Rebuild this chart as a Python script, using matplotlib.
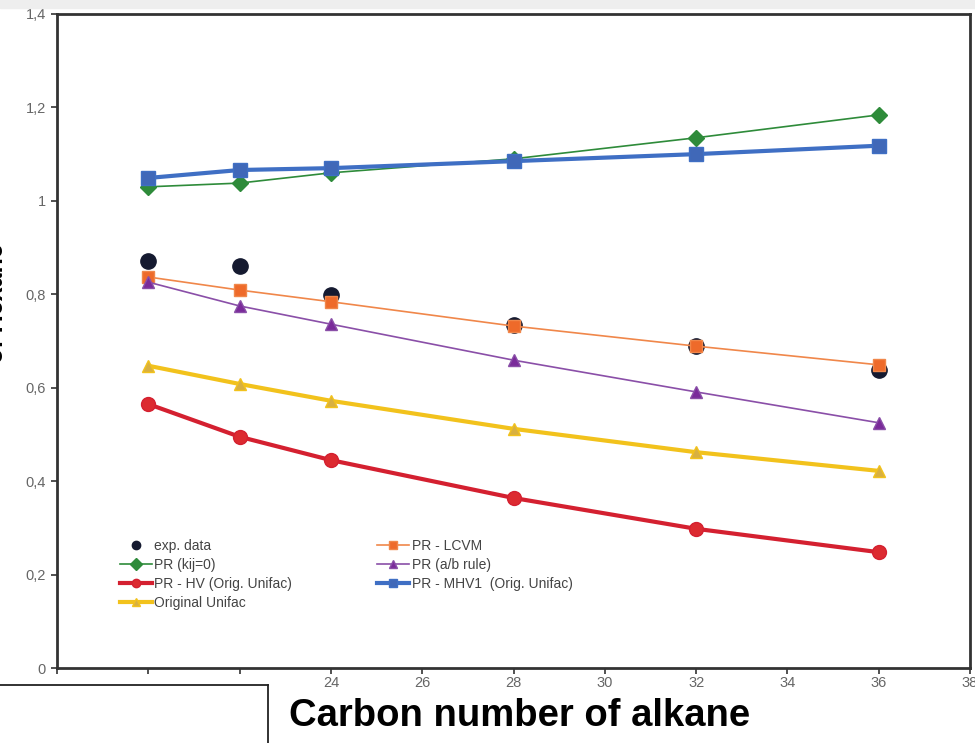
import matplotlib.pyplot as plt
from matplotlib.lines import Line2D
from matplotlib.patches import Rectangle
from matplotlib.ticker import FuncFormatter

carbon = [20, 22, 24, 28, 32, 36]

exp_data = [0.871, 0.861, 0.799, 0.734, 0.689, 0.638]
pr_kij0 = [1.030, 1.038, 1.060, 1.090, 1.135, 1.184]
pr_hv = [0.565, 0.495, 0.445, 0.364, 0.298, 0.248]
orig_unifac = [0.647, 0.608, 0.572, 0.512, 0.462, 0.422]
pr_lcvm = [0.837, 0.809, 0.784, 0.732, 0.689, 0.649]
pr_ab = [0.826, 0.775, 0.736, 0.659, 0.591, 0.525]
pr_mhv1 = [1.049, 1.066, 1.070, 1.085, 1.100, 1.118]

x_ticks = [18, 20, 22, 24, 26, 28, 30, 32, 34, 36, 38]
x_labeled = [24, 26, 28, 30, 32, 34, 36, 38]
y_ticks = [0, 0.2, 0.4, 0.6, 0.8, 1.0, 1.2, 1.4]

plt.rcParams['font.family'] = ['Liberation Sans', 'DejaVu Sans']

fig = plt.figure(figsize=(9.75, 7.43), dpi=100)
ax = fig.add_axes([0.0585, 0.1009, 0.9364, 0.8803])

# gray band at the very top
fig.patches.append(Rectangle((0, 0.989), 1, 0.011, transform=fig.transFigure,
                             color='#eeeeee', zorder=0))

ax.plot(carbon, pr_kij0, color='#2e8b3a', lw=1.2, marker='D', ms=8,
        label='PR (kij=0)', zorder=3)
ax.plot(carbon, pr_mhv1, color='#3f6fc4', lw=3, marker='s', ms=10,
        markerfacecolor='#4068b8', label='PR - MHV1  (Orig. Unifac)', zorder=4)
ax.plot(carbon, pr_lcvm, color='#f0874a', lw=1.2, marker='s', ms=8,
        markerfacecolor='#ee6a2a', label='PR - LCVM', zorder=3)
ax.plot(carbon, pr_ab, color='#8a4fa8', lw=1.2, marker='^', ms=9,
        markerfacecolor='#7a2a9a', label='PR (a/b rule)', zorder=3)
ax.plot(carbon, orig_unifac, color='#f2c21c', lw=3, marker='^', ms=9,
        markerfacecolor='#d8b040', label='Original Unifac', zorder=3)
ax.plot(carbon, pr_hv, color='#d42030', lw=3, marker='o', ms=10,
        markerfacecolor='#dc2a30', label='PR - HV (Orig. Unifac)', zorder=3)
ax.plot(carbon, exp_data, ls='none', color='#151a30', marker='o', ms=11,
        label='exp. data', zorder=2)

ax.set_xlim(18, 38)
ax.set_ylim(0, 1.4)
ax.set_xticks(x_ticks)
ax.set_xticklabels([str(t) if t in x_labeled else '' for t in x_ticks])
ax.set_yticks(y_ticks)
ax.yaxis.set_major_formatter(FuncFormatter(
    lambda v, p: '0' if v == 0 else ('1' if abs(v - 1) < 1e-9 else f'{v:.1f}'.replace('.', ','))))
ax.tick_params(axis='both', colors='#333333', labelcolor='#666666', labelsize=10.5,
               length=4, width=1.2, direction='out')
ax.tick_params(axis='x', pad=2)
ax.tick_params(axis='y', pad=4)
for s in ax.spines.values():
    s.set_linewidth(2)
    s.set_color('#333333')

h = {l.get_label(): l for l in ax.get_lines()}
order = ['exp. data', 'PR (kij=0)', 'PR - HV (Orig. Unifac)', 'Original Unifac',
         'PR - LCVM', 'PR (a/b rule)', 'PR - MHV1  (Orig. Unifac)']
handles = []
for k in order:
    ln = h[k]
    handles.append(Line2D([], [], color=ln.get_color(), lw=ln.get_linewidth(),
                          ls=ln.get_linestyle(), marker=ln.get_marker(), ms=6,
                          markerfacecolor=ln.get_markerfacecolor(),
                          markeredgecolor=ln.get_markeredgecolor()))
leg = ax.legend(handles, order, ncol=2, loc='lower left', bbox_to_anchor=(0.055, 0.07),
                frameon=False, fontsize=10, handlelength=2.3, handletextpad=0.2,
                labelspacing=0.35, columnspacing=6.1, labelcolor='#444444')

# bold axis titles from the slide
fig.text(0.533, 0.036, 'Carbon number of alkane', ha='center', va='center',
         fontsize=27.5, fontweight='bold', family=['Liberation Sans Narrow', 'Liberation Sans'])
fig.text(-0.0045, 0.592, 'of Hexane', ha='center', va='center', rotation=90,
         fontsize=18, fontweight='bold', family=['Liberation Sans Narrow', 'Liberation Sans'])

# box outline at lower left
fig.lines.append(Line2D([0, 0.275], [0.078, 0.078], transform=fig.transFigure,
                        color='#222222', lw=1.3))
fig.lines.append(Line2D([0.275, 0.275], [0.078, 0], transform=fig.transFigure,
                        color='#222222', lw=1.3))

fig.savefig('out.png', dpi=100)
